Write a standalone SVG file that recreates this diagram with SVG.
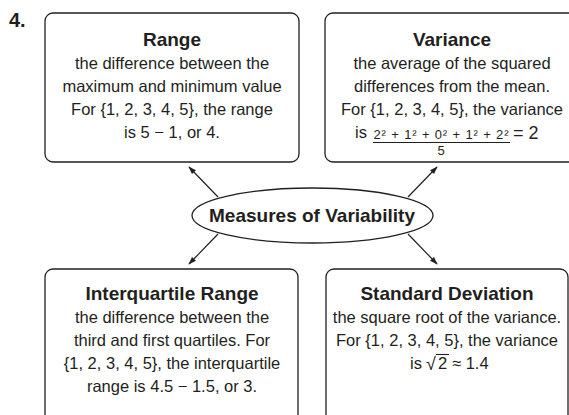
<svg xmlns="http://www.w3.org/2000/svg" width="569" height="415" viewBox="0 0 569 415">
<defs>
<style>
.box{fill:#fff;stroke:#231f20;stroke-width:1.3}
.t{font-family:"Liberation Sans",Arial,sans-serif;fill:#231f20;text-anchor:middle}
.h{font-size:19px;font-weight:bold}
.b{font-size:16.5px}
.s{font-size:13px}
.con{stroke:#231f20;stroke-width:1.2;fill:none;marker-end:url(#ah)}
</style>
<marker id="ah" viewBox="0 0 10 10" refX="9" refY="5" markerWidth="8" markerHeight="8" markerUnits="userSpaceOnUse" orient="auto">
<path d="M0,1.5 L10,5 L0,8.5 Z" fill="#231f20"/>
</marker>
</defs>
<rect width="569" height="415" fill="#fff"/>
<text x="9" y="27" font-family="Liberation Sans,Arial,sans-serif" font-weight="bold" font-size="20" fill="#231f20">4.</text>

<g id="range">
<rect class="box" x="45" y="13" width="254" height="149" rx="8"/>
<text class="t h" x="172" y="46">Range</text>
<text class="t b" x="172" y="69">the difference between the</text>
<text class="t b" x="172" y="92">maximum and minimum value</text>
<text class="t b" x="172" y="115">For {1, 2, 3, 4, 5}, the range</text>
<text class="t b" x="172" y="138">is 5 − 1, or 4.</text>
</g>

<g id="variance">
<rect class="box" x="325" y="13" width="260" height="149" rx="8"/>
<text class="t h" x="452" y="46">Variance</text>
<text class="t b" x="452" y="69">the average of the squared</text>
<text class="t b" x="452" y="92">differences from the mean.</text>
<text class="t b" x="452" y="115">For {1, 2, 3, 4, 5}, the variance</text>
<text class="t b" x="355" y="138" style="text-anchor:start">is</text>
<text class="t s" x="441" y="139" textLength="135" lengthAdjust="spacing">2² + 1² + 0² + 1² + 2²</text>
<line x1="373" y1="142.5" x2="510" y2="142.5" stroke="#231f20" stroke-width="1"/>
<text class="t s" x="441" y="155">5</text>
<text class="t" x="513" y="139" font-size="18" style="text-anchor:start">= 2</text>
</g>

<g id="measures">
<ellipse class="box" cx="312.5" cy="215.5" rx="120.5" ry="27.5"/>
<text class="t h" x="312" y="222">Measures of Variability</text>
</g>

<g id="iqr">
<rect class="box" x="45" y="269" width="253" height="170" rx="8"/>
<text class="t h" x="172" y="300">Interquartile Range</text>
<text class="t b" x="172" y="323">the difference between the</text>
<text class="t b" x="172" y="346">third and first quartiles. For</text>
<text class="t b" x="172" y="369">{1, 2, 3, 4, 5}, the interquartile</text>
<text class="t b" x="172" y="392">range is 4.5 − 1.5, or 3.</text>
</g>

<g id="stddev">
<rect class="box" x="326" y="269" width="242" height="170" rx="8"/>
<text class="t h" x="447" y="300">Standard Deviation</text>
<text class="t b" x="447" y="323">the square root of the variance.</text>
<text class="t b" x="447" y="346">For {1, 2, 3, 4, 5}, the variance</text>
<text class="t b" x="410" y="369" style="text-anchor:start">is</text>
<text class="t" x="426" y="370" font-size="18" style="text-anchor:start">√</text>
<line x1="436" y1="354.5" x2="449" y2="354.5" stroke="#231f20" stroke-width="1.1"/>
<text class="t b" x="438" y="369" style="text-anchor:start">2</text>
<text class="t b" x="452" y="369" style="text-anchor:start">≈ 1.4</text>
</g>

<g id="connectors">
<line class="con" x1="218" y1="197" x2="189" y2="167"/>
<line class="con" x1="218" y1="234" x2="189" y2="264"/>
<line class="con" x1="408" y1="197" x2="437" y2="167"/>
<line class="con" x1="408" y1="234" x2="437" y2="264"/>
</g>
</svg>
